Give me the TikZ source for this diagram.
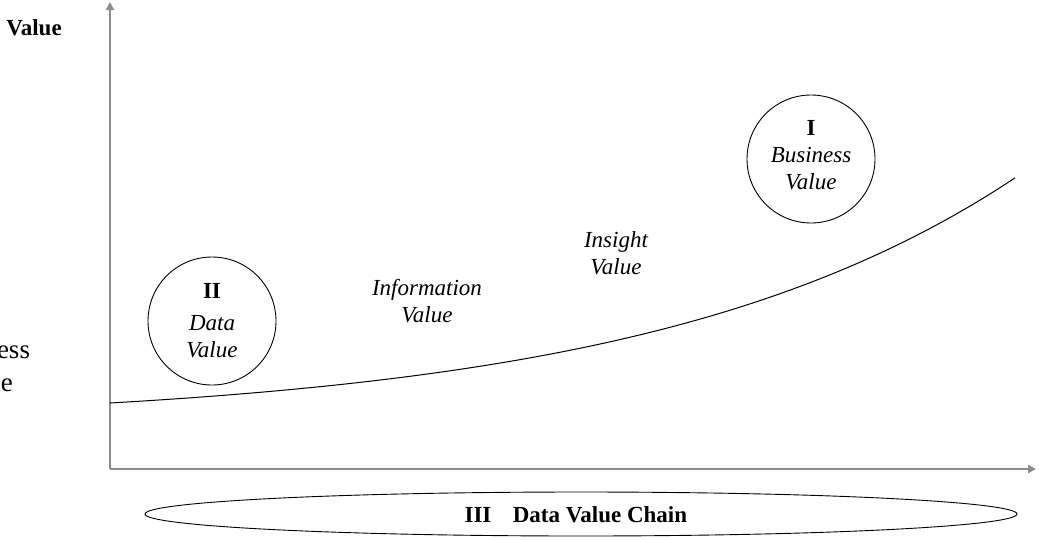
\documentclass[tikz,border=0pt]{standalone}
\usepackage{fontspec}
\setmainfont{Liberation Serif}
\usetikzlibrary{arrows.meta}
\tikzset{
  axis/.style={draw=black!45, line width=2pt, -{Triangle[length=8pt,width=8pt]}},
  valuecircle/.style={circle, draw, line width=0.9pt, minimum size=128pt, inner sep=0pt},
  lbl/.style={font=\fontsize{23}{27}\selectfont\itshape, align=center, inner sep=0pt},
  bold/.style={font=\fontsize{23}{27}\selectfont\bfseries, inner sep=0pt},
}
\begin{document}
\begin{tikzpicture}[x=1pt, y=-1pt]
  \clip (0,0) rectangle (1039,539);
  \fill[white] (0,0) rectangle (1039,539);

  % axes
  \coordinate (origin) at (110,469);
  \coordinate (ytop) at (110,2);
  \coordinate (xend) at (1036,469);
  \draw[axis] (origin) -- (ytop);
  \draw[axis] (origin) -- (xend);

  % axis label and side caption
  \node[bold] (vlabel) at (34,28) {Value};
  \node[font=\fontsize{27}{33}\selectfont, align=center, inner sep=0pt] (bvside) at (-18,366) {Business\\Value};

  % value curve
  \draw[line width=1pt] plot[domain=110:1015, samples=120]
    (\x, {403-21.4*(exp(0.0027*(\x-110))-1)});

  % circles
  \node[valuecircle] (data) at (212,321) {};
  \node[font=\fontsize{23}{27}\selectfont\bfseries, inner sep=0pt] (dataroman) at (212,291) {II};
  \node[lbl] (datatxt) at (212,337) {Data\\Value};

  \node[valuecircle] (business) at (811,159) {};
  \node[font=\fontsize{23}{27}\selectfont\bfseries, inner sep=0pt] (busroman) at (811,128) {I};
  \node[lbl] (bustxt) at (811,169) {Business\\Value};

  % free labels
  \node[lbl] (info) at (427,301) {Information\\Value};
  \node[lbl] (insight) at (616,253) {Insight\\Value};

  % chain ellipse
  \draw[line width=0.9pt] (581,514) ellipse [x radius=436, y radius=22];
  \node[bold] (chainroman) at (478,515) {III};
  \node[bold] (chain) at (600,515) {Data Value Chain};
\end{tikzpicture}
\end{document}
